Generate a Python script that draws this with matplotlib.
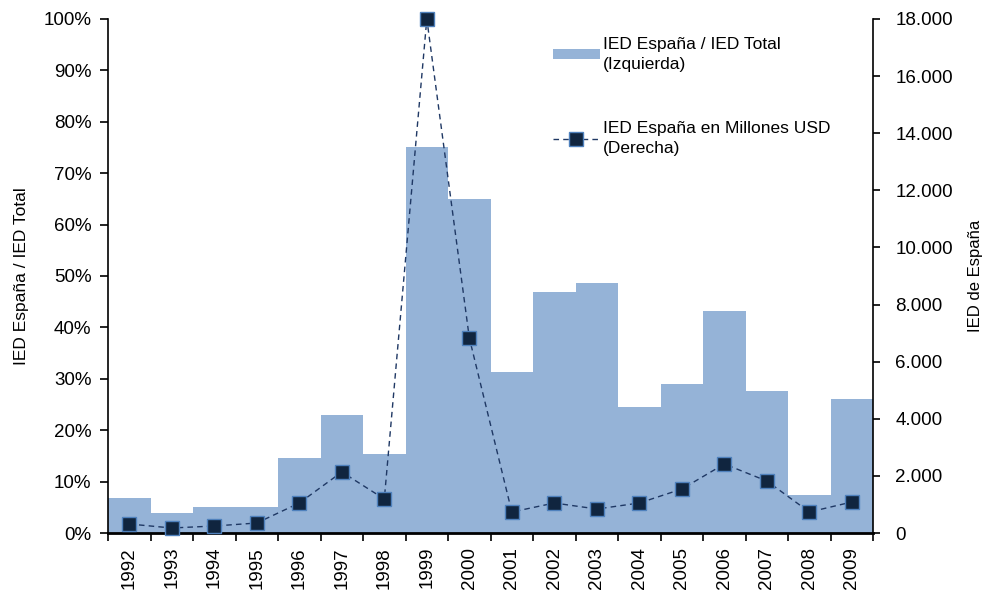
import matplotlib.pyplot as plt
from matplotlib.ticker import FuncFormatter, FixedLocator
import numpy as np

plt.rcParams['font.family'] = ['Liberation Sans', 'DejaVu Sans']

years = ['1992', '1993', '1994', '1995', '1996', '1997', '1998', '1999', '2000',
         '2001', '2002', '2003', '2004', '2005', '2006', '2007', '2008', '2009']
# IED España / IED Total (%)
share = [6.8, 3.9, 5.1, 5.1, 14.6, 23.0, 15.4, 75.1, 65.0,
         31.3, 46.9, 48.6, 24.5, 29.0, 43.2, 27.6, 7.4, 26.1]
# IED España en millones USD
usd = [315, 175, 245, 350, 1050, 2136, 1190, 18000, 6830,
       735, 1050, 840, 1050, 1540, 2416, 1820, 735, 1085]

fig = plt.figure(figsize=(9.84, 5.95), dpi=100)
ax = fig.add_axes([0.1098, 0.1042, 0.7775, 0.864])
x = np.arange(len(years))

#Bars on the left axis
bars = ax.bar(x, share, width=1.0, color='#95B3D7', linewidth=0,
              label='IED España / IED Total\n(Izquierda)')
ax.set_xlim(-0.5, len(years) - 0.5)
ax.set_ylim(0, 100)
ax.set_yticks(np.arange(0, 101, 10))
ax.yaxis.set_major_formatter(FuncFormatter(lambda v, p: f'{v:.0f}%'))
ax.set_ylabel('IED España / IED Total', fontsize=12.5, labelpad=10)

ax.set_xticks(x)
ax.set_xticklabels(years, rotation=90, fontsize=13.5)
ax.tick_params(axis='x', which='major', length=0, pad=10)
ax.xaxis.set_minor_locator(FixedLocator(np.arange(-0.5, len(years), 1)))
ax.tick_params(axis='x', which='minor', length=6, width=1.2, direction='out')
ax.tick_params(axis='y', labelsize=13.5, length=6, width=1.2, pad=6)

for s in ['top', 'right']:
    ax.spines[s].set_visible(False)
ax.spines['left'].set_linewidth(1.2)
ax.spines['bottom'].set_linewidth(2)

#Line on the right axis
ax2 = ax.twinx()
line, = ax2.plot(x, usd, linestyle=(0, (4, 3)), color='#1F3864', linewidth=1,
                 marker='s', markersize=9.5, markerfacecolor='#10253F',
                 markeredgecolor='#4F81BD', markeredgewidth=1,
                 label='IED España en Millones USD\n(Derecha)', clip_on=False, zorder=5)
ax2.set_ylim(0, 18000)
ax2.set_yticks(np.arange(0, 18001, 2000))
ax2.yaxis.set_major_formatter(FuncFormatter(lambda v, p: f'{v:,.0f}'.replace(',', '.')))
ax2.tick_params(axis='y', labelsize=13.5, length=5, width=1.2, pad=11)
ax2.set_ylabel('IED de España', fontsize=12, labelpad=11)
for s in ['top', 'left', 'bottom']:
    ax2.spines[s].set_visible(False)
ax2.spines['right'].set_linewidth(1.2)

leg = ax2.legend([bars, line], [bars.get_label(), line.get_label()],
                 loc='upper left', bbox_to_anchor=(0.561, 0.995), frameon=False,
                 fontsize=12.5, labelspacing=2.85, handlelength=2.7, handleheight=0.5,
                 handletextpad=0.2)
for t in leg.get_texts():
    t.set_linespacing(1.4)

fig.savefig('out.png', dpi=100)
